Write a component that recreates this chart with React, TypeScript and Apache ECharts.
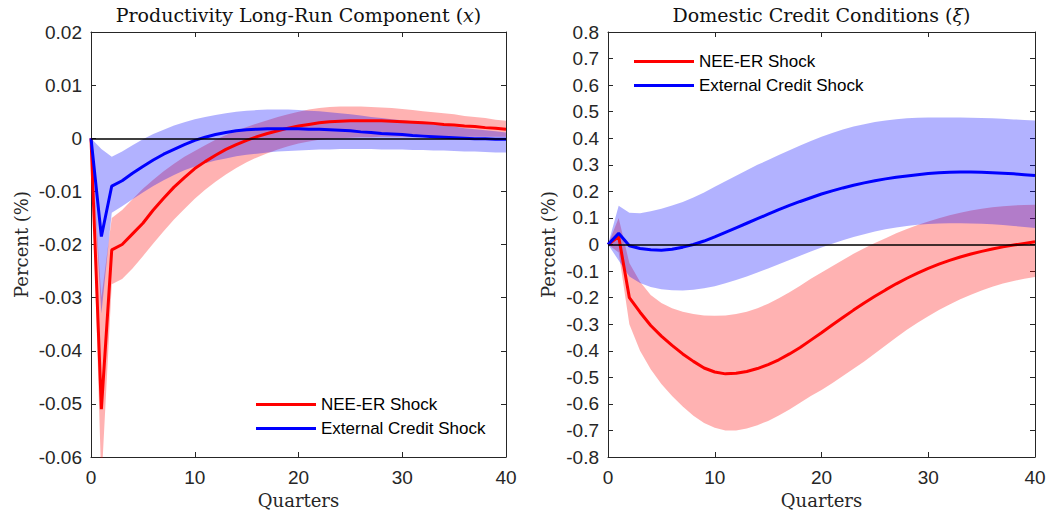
import React, { useEffect, useRef } from "react";
import * as echarts from "echarts";

const quarters = Array.from({ length: 41 }, (_, i) => String(i));

// Left panel: Productivity Long-Run Component (x)
const xNeeLine = [0, -0.051, -0.021, -0.02, -0.018, -0.016, -0.0135, -0.0113, -0.0092, -0.0074, -0.0057, -0.0044, -0.0032, -0.0021, -0.0012, -0.0004, 0.0003, 0.0009, 0.0014, 0.0019, 0.0023, 0.0026, 0.0029, 0.0031, 0.0032, 0.0033, 0.0033, 0.0033, 0.0033, 0.0032, 0.0031, 0.003, 0.0029, 0.0028, 0.0026, 0.0025, 0.0023, 0.0022, 0.002, 0.0019, 0.0017];
const xNeeUpper = [0, -0.03, -0.015, -0.0135, -0.0115, -0.0095, -0.0078, -0.0062, -0.0048, -0.0035, -0.0024, -0.0013, -0.0003, 0.0006, 0.0014, 0.0021, 0.0028, 0.0034, 0.004, 0.0045, 0.005, 0.0054, 0.0057, 0.0059, 0.006, 0.006, 0.006, 0.0059, 0.0058, 0.0057, 0.0055, 0.0053, 0.0051, 0.0049, 0.0047, 0.0045, 0.0042, 0.004, 0.0038, 0.0035, 0.0033];
const xNeeLower = [0, -0.065, -0.0275, -0.0265, -0.0245, -0.0222, -0.0198, -0.0175, -0.0153, -0.0133, -0.0114, -0.0097, -0.0082, -0.0068, -0.0056, -0.0045, -0.0036, -0.0028, -0.0021, -0.0015, -0.001, -0.0006, -0.0003, -0.0001, 0, 0.0001, 0.0002, 0.0002, 0.0003, 0.0003, 0.0003, 0.0003, 0.0003, 0.0003, 0.0003, 0.0003, 0.0003, 0.0003, 0.0003, 0.0003, 0.0003];
const xExtLine = [0, -0.0185, -0.009, -0.008, -0.0066, -0.0053, -0.0041, -0.003, -0.0021, -0.0012, -0.0004, 0.0002, 0.0007, 0.0011, 0.0014, 0.0016, 0.0017, 0.0018, 0.0018, 0.0018, 0.0018, 0.0017, 0.0017, 0.0016, 0.0015, 0.0014, 0.0012, 0.0011, 0.0009, 0.0008, 0.0007, 0.0005, 0.0004, 0.0003, 0.0002, 0.0001, 0, -0.0001, -0.0001, -0.0002, -0.0002];
const xExtUpper = [0, -0.002, -0.0035, -0.0025, -0.0013, -0.0002, 0.0008, 0.0016, 0.0024, 0.003, 0.0036, 0.004, 0.0044, 0.0047, 0.005, 0.0052, 0.0053, 0.0054, 0.0054, 0.0054, 0.0053, 0.0052, 0.0051, 0.0049, 0.0047, 0.0045, 0.0043, 0.004, 0.0038, 0.0036, 0.0034, 0.0032, 0.0029, 0.0027, 0.0024, 0.0022, 0.0019, 0.0017, 0.0015, 0.0013, 0.0011];
const xExtLower = [0, -0.033, -0.014, -0.0128, -0.0115, -0.0102, -0.009, -0.0079, -0.0069, -0.006, -0.0053, -0.0047, -0.0042, -0.0038, -0.0034, -0.0031, -0.0029, -0.0027, -0.0025, -0.0024, -0.0023, -0.0022, -0.0021, -0.0021, -0.002, -0.002, -0.002, -0.002, -0.0021, -0.0021, -0.0021, -0.0022, -0.0022, -0.0023, -0.0023, -0.0024, -0.0025, -0.0025, -0.0026, -0.0027, -0.0027];

// Right panel: Domestic Credit Conditions (xi)
const xiNeeLine = [0, 0.03, -0.2, -0.255, -0.305, -0.345, -0.38, -0.412, -0.44, -0.465, -0.48, -0.487, -0.485, -0.478, -0.467, -0.452, -0.434, -0.412, -0.388, -0.36, -0.332, -0.303, -0.275, -0.247, -0.22, -0.195, -0.171, -0.148, -0.127, -0.108, -0.09, -0.074, -0.06, -0.047, -0.036, -0.026, -0.017, -0.009, -0.002, 0.004, 0.01];
const xiNeeUpper = [0, 0.1, -0.07, -0.14, -0.19, -0.22, -0.24, -0.253, -0.262, -0.267, -0.268, -0.267, -0.262, -0.253, -0.24, -0.223, -0.202, -0.18, -0.155, -0.129, -0.105, -0.082, -0.058, -0.035, -0.014, 0.006, 0.024, 0.042, 0.058, 0.073, 0.087, 0.099, 0.11, 0.12, 0.128, 0.135, 0.14, 0.144, 0.147, 0.149, 0.15];
const xiNeeLower = [0, -0.03, -0.3, -0.4, -0.47, -0.525, -0.57, -0.61, -0.645, -0.672, -0.69, -0.7, -0.7, -0.693, -0.68, -0.664, -0.644, -0.621, -0.596, -0.57, -0.548, -0.522, -0.495, -0.468, -0.44, -0.41, -0.38, -0.35, -0.321, -0.295, -0.27, -0.247, -0.226, -0.206, -0.189, -0.173, -0.159, -0.147, -0.137, -0.129, -0.122];
const xiExtLine = [0, 0.042, -0.005, -0.015, -0.02, -0.022, -0.018, -0.01, 0, 0.013, 0.029, 0.046, 0.063, 0.08, 0.097, 0.114, 0.131, 0.147, 0.162, 0.176, 0.19, 0.202, 0.213, 0.223, 0.232, 0.24, 0.247, 0.253, 0.258, 0.263, 0.267, 0.27, 0.272, 0.273, 0.273, 0.272, 0.27, 0.268, 0.266, 0.263, 0.26];
const xiExtUpper = [0, 0.146, 0.12, 0.118, 0.125, 0.135, 0.147, 0.16, 0.177, 0.196, 0.217, 0.238, 0.259, 0.28, 0.3, 0.318, 0.337, 0.355, 0.373, 0.39, 0.406, 0.42, 0.433, 0.444, 0.453, 0.461, 0.467, 0.472, 0.475, 0.477, 0.478, 0.478, 0.478, 0.478, 0.477, 0.476, 0.475, 0.473, 0.471, 0.469, 0.467];
const xiExtLower = [0, -0.06, -0.12, -0.145, -0.16, -0.168, -0.172, -0.173, -0.17, -0.165, -0.157, -0.146, -0.134, -0.12, -0.105, -0.09, -0.074, -0.058, -0.042, -0.026, -0.011, 0.003, 0.016, 0.028, 0.039, 0.049, 0.057, 0.064, 0.07, 0.074, 0.077, 0.079, 0.08, 0.08, 0.079, 0.078, 0.076, 0.073, 0.07, 0.066, 0.062];

const NEE = "NEE-ER Shock";
const EXT = "External Credit Shock";
const AXIS_COLOR = "#262626";
const SANS = "Liberation Sans";
const SERIF = "DejaVu Serif";

function band(name: string, lower: number[], upper: number[], gi: number, color: string, stackId: string, withZero: boolean) {
  const base: any = {
    type: "line",
    name: name + " lower",
    xAxisIndex: gi * 2,
    yAxisIndex: gi * 2,
    data: lower,
    stack: stackId,
    stackStrategy: "all",
    symbol: "none",
    lineStyle: { opacity: 0 },
    silent: true,
    clip: true,
  };
  const top: any = {
    type: "line",
    name: name + " band",
    xAxisIndex: gi * 2,
    yAxisIndex: gi * 2,
    data: upper.map((u, i) => u - lower[i]),
    stack: stackId,
    stackStrategy: "all",
    symbol: "none",
    lineStyle: { opacity: 0 },
    areaStyle: { color, opacity: 1 },
    silent: true,
    clip: true,
  };
  if (withZero) {
    top.markLine = {
      silent: true,
      symbol: "none",
      label: { show: false },
      lineStyle: { color: "#000", width: 1.5, type: "solid" },
      data: [{ yAxis: 0 }],
    };
  }
  return [base, top];
}

function mainLine(name: string, data: number[], gi: number, color: string) {
  return {
    type: "line",
    name,
    xAxisIndex: gi * 2,
    yAxisIndex: gi * 2,
    data,
    symbol: "none",
    lineStyle: { color, width: 3 },
    itemStyle: { color },
    clip: true,
  };
}

function fmt(dec: number) {
  return (v: number) => (Math.abs(v) < 1e-9 ? "0" : v.toFixed(dec));
}

function xAxes(gi: number, title: string) {
  return [
    {
      type: "category",
      gridIndex: gi,
      data: quarters,
      boundaryGap: false,
      position: "bottom",
      axisLine: { show: true, onZero: false, lineStyle: { color: AXIS_COLOR, width: 1 } },
      axisTick: { show: true, inside: true, length: 5, interval: 9, lineStyle: { color: AXIS_COLOR } },
      axisLabel: { interval: 9, margin: 11, fontFamily: SANS, fontSize: 19, color: AXIS_COLOR },
      splitLine: { show: false },
      name: "Quarters",
      nameLocation: "middle",
      nameGap: 34,
      nameTextStyle: { fontFamily: SERIF, fontSize: 18, color: AXIS_COLOR },
    },
    {
      type: "category",
      gridIndex: gi,
      data: quarters,
      boundaryGap: false,
      position: "top",
      axisLine: { show: true, onZero: false, lineStyle: { color: AXIS_COLOR, width: 1 } },
      axisTick: { show: true, inside: true, length: 5, interval: 9, lineStyle: { color: AXIS_COLOR } },
      axisLabel: { show: false, interval: 9 },
      splitLine: { show: false },
      name: title,
      nameLocation: "middle",
      nameGap: 8,
      nameTextStyle: {
        fontFamily: SERIF,
        fontSize: 19,
        color: "#111",
        rich: { i: { fontFamily: SERIF, fontStyle: "italic", fontSize: 19, color: "#111" } },
      },
    },
  ];
}

function yAxes(gi: number, min: number, max: number, interval: number, dec: number, gap: number) {
  return [
    {
      type: "value",
      gridIndex: gi,
      min,
      max,
      interval,
      position: "left",
      axisLine: { show: true, onZero: false, lineStyle: { color: AXIS_COLOR, width: 1 } },
      axisTick: { show: true, inside: true, length: 5, lineStyle: { color: AXIS_COLOR } },
      axisLabel: { margin: 9, fontFamily: SANS, fontSize: 19, color: AXIS_COLOR, formatter: fmt(dec) },
      splitLine: { show: false },
      name: "Percent (%)",
      nameLocation: "middle",
      nameGap: gap,
      nameTextStyle: { fontFamily: SERIF, fontSize: 18, color: AXIS_COLOR },
    },
    {
      type: "value",
      gridIndex: gi,
      min,
      max,
      interval,
      position: "right",
      axisLine: { show: true, onZero: false, lineStyle: { color: AXIS_COLOR, width: 1 } },
      axisTick: { show: true, inside: true, length: 5, lineStyle: { color: AXIS_COLOR } },
      axisLabel: { show: false },
      splitLine: { show: false },
    },
  ];
}

export default function App() {
  const ref = useRef<HTMLDivElement>(null);
  useEffect(() => {
    if (!ref.current) return;
    const chart = echarts.init(ref.current, undefined, { renderer: "svg" });
    const RED_BAND = "rgba(255,0,0,0.3)";
    const BLUE_BAND = "rgba(0,0,255,0.3)";
    const legendCommon = {
      orient: "vertical",
      icon: "rect",
      itemWidth: 60,
      itemHeight: 3,
      itemGap: 7,
      data: [NEE, EXT],
      textStyle: { fontFamily: SANS, fontSize: 17, color: "#000" },
      selectedMode: false,
    };
    chart.setOption({
      animation: false,
      backgroundColor: "#fff",
      grid: [
        { left: 91, top: 31, width: 415, height: 426 },
        { left: 608, top: 31, width: 427, height: 426 },
      ],
      xAxis: [
        ...xAxes(0, "Productivity Long-Run Component ({i|x})"),
        ...xAxes(1, "Domestic Credit Conditions ({i|ξ})"),
      ],
      yAxis: [
        ...yAxes(0, -0.06, 0.02, 0.01, 2, 61),
        ...yAxes(1, -0.8, 0.8, 0.1, 1, 51),
      ],
      legend: [
        { ...legendCommon, left: 251, top: 391 },
        { ...legendCommon, left: 629, top: 48 },
      ],
      series: [
        ...band("x nee", xNeeLower, xNeeUpper, 0, RED_BAND, "xnee", false),
        mainLine(NEE, xNeeLine, 0, "#ff0000"),
        ...band("x ext", xExtLower, xExtUpper, 0, BLUE_BAND, "xext", true),
        mainLine(EXT, xExtLine, 0, "#0000ff"),
        ...band("xi nee", xiNeeLower, xiNeeUpper, 1, RED_BAND, "xinee", false),
        mainLine(NEE, xiNeeLine, 1, "#ff0000"),
        ...band("xi ext", xiExtLower, xiExtUpper, 1, BLUE_BAND, "xiext", true),
        mainLine(EXT, xiExtLine, 1, "#0000ff"),
      ],
    });
    return () => chart.dispose();
  }, []);
  return (
    <div
      ref={ref}
      style={{ position: "fixed", left: 0, top: 0, width: 1054, height: 516, background: "#fff" }}
    />
  );
}
